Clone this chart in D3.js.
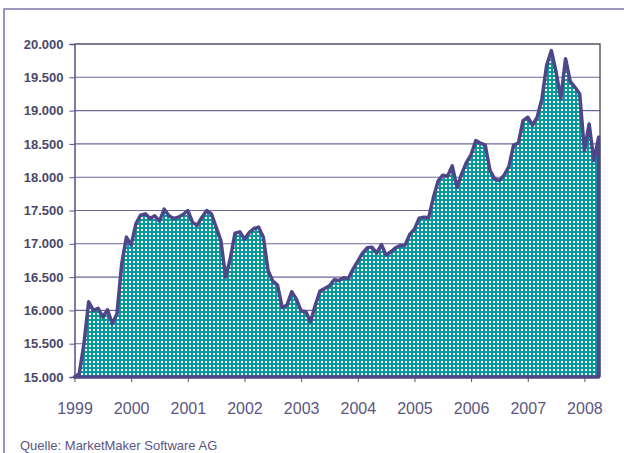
<!DOCTYPE html>
<html><head><meta charset="utf-8">
<script src="https://cdn.jsdelivr.net/npm/d3@7"></script>
<style>html,body{margin:0;padding:0;background:#fff;}svg{display:block;}</style>
</head><body>
<svg id="chart" width="624" height="453"></svg>
<script>
// Monthly values, January 1999 to April 2008
const startYear = 1999;
const values = [
  15000, 15050, 15500, 16130, 16000, 16030, 15900, 16010, 15800, 15950, 16700, 17100,
  16980, 17300, 17430, 17450, 17380, 17420, 17340, 17520, 17420, 17380, 17400, 17440,
  17500, 17320, 17280, 17400, 17500, 17450, 17250, 17050, 16500, 16780, 17160, 17180,
  17070, 17170, 17230, 17250, 17100, 16600, 16440, 16380, 16040, 16080, 16280, 16170,
  15990, 15980, 15830, 16080, 16290, 16330, 16370, 16460, 16450, 16490, 16480, 16620,
  16740, 16860, 16940, 16950, 16860, 16990, 16830, 16880, 16940, 16975, 16980, 17140,
  17220, 17385, 17400, 17390, 17690, 17940, 18030, 18015, 18170, 17850, 18050, 18220,
  18340, 18550, 18510, 18480, 18100, 17975, 17950, 18030, 18160, 18480, 18510, 18850,
  18900, 18780, 18900, 19180, 19680, 19900, 19580, 19180, 19780, 19440, 19350, 19250,
  18400, 18800, 18250, 18600
];
const yearTicks = [1999, 2000, 2001, 2002, 2003, 2004, 2005, 2006, 2007, 2008];
const yTicks = [15000, 15500, 16000, 16500, 17000, 17500, 18000, 18500, 19000, 19500, 20000];
const sourceText = "Quelle: MarketMaker Software AG";

(function () {
const svg = d3.select("#chart");
const pL = 74.5, pR = 600, pT = 44, pB = 377;

const x = d3.scaleLinear().domain([0, 111.3]).range([pL, pR]);
const y = d3.scaleLinear().domain([15000, 20000]).range([pB, pT]);
const de = d3.formatLocale({decimal: ",", thousands: ".", grouping: [3], currency: ["", " €"]});
const fmt = de.format(",.0f");

// outer frame
svg.append("path").attr("d", "M4,460 V9 H640")
  .attr("fill", "none").attr("stroke", "#7c7aae").attr("stroke-width", 1.6);

// pattern
const defs = svg.append("defs");
const pat = defs.append("pattern").attr("id", "dots").attr("patternUnits", "userSpaceOnUse")
  .attr("width", 4).attr("height", 4);
pat.append("rect").attr("width", 4).attr("height", 4).attr("fill", "#079a9a");
pat.append("rect").attr("x", 1).attr("y", 1).attr("width", 2).attr("height", 2).attr("fill", "#ffffff");

// gridlines
svg.append("g").selectAll("line").data(yTicks.slice(0, -1)).join("line")
  .attr("x1", pL).attr("x2", pR)
  .attr("y1", d => y(d)).attr("y2", d => y(d))
  .attr("stroke", "#6c6899").attr("stroke-width", 1.1);

// top + right border
svg.append("path").attr("d", `M${pL},${y(20000)} H${pR} V${pB}`)
  .attr("fill", "none").attr("stroke", "#55525f").attr("stroke-width", 1.4);

// area
const area = d3.area().x((d, i) => x(i)).y0(y(15000)).y1(d => y(d));
svg.append("path").datum(values).attr("d", area)
  .attr("fill", "url(#dots)").attr("stroke", "#4d4789").attr("stroke-width", 3.5)
  .attr("stroke-linejoin", "round");

// y axis
const yAxis = svg.append("g").attr("transform", `translate(${pL},0)`)
  .call(d3.axisLeft(y).tickValues(yTicks).tickFormat(fmt).tickSize(5).tickPadding(6));
yAxis.select(".domain").attr("stroke", "#554f86").attr("stroke-width", 1.5);
yAxis.selectAll(".tick line").attr("stroke", "#554f86");
yAxis.selectAll("text").attr("font-family", "Liberation Sans, Arial, sans-serif")
  .attr("font-size", 13).attr("font-weight", "bold").attr("fill", "#4a4868");

// x axis
const xAxis = svg.append("g").attr("transform", `translate(0,${pB})`)
  .call(d3.axisBottom(x).tickValues(yearTicks.map(yr => (yr - startYear) * 12))
    .tickFormat(v => String(startYear + v / 12)).tickSize(5).tickPadding(21));
xAxis.select(".domain").remove();
xAxis.selectAll(".tick line").attr("stroke", "#55525f");
xAxis.selectAll("text").attr("font-family", "Liberation Sans, Arial, sans-serif")
  .attr("font-size", 16).attr("fill", "#5a5682");

// source
svg.append("text").attr("x", 20).attr("y", 450).text(sourceText)
  .attr("font-family", "Liberation Sans, Arial, sans-serif").attr("font-size", 13)
  .attr("fill", "#5a5682");
})();
</script>
</body></html>
